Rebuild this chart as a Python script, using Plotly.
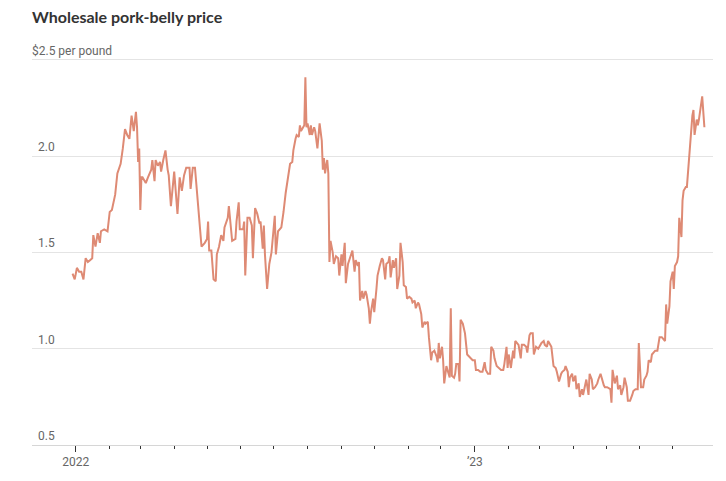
import plotly.graph_objects as go

# ---- data ----
dates = [
    "2021-12-29", "2021-12-31", "2022-01-02", "2022-01-04", "2022-01-06", "2022-01-08", "2022-01-10",
    "2022-01-12", "2022-01-14", "2022-01-16", "2022-01-17", "2022-01-19", "2022-01-21", "2022-01-23",
    "2022-01-24", "2022-01-27", "2022-01-30", "2022-02-01", "2022-02-03", "2022-02-06", "2022-02-08",
    "2022-02-11", "2022-02-13", "2022-02-15", "2022-02-17", "2022-02-19", "2022-02-21", "2022-02-23",
    "2022-02-25", "2022-02-26", "2022-02-27", "2022-02-28", "2022-03-01", "2022-03-02", "2022-03-03",
    "2022-03-06", "2022-03-08", "2022-03-11", "2022-03-12", "2022-03-14", "2022-03-15", "2022-03-17",
    "2022-03-19", "2022-03-20", "2022-03-22", "2022-03-24", "2022-03-26", "2022-03-27", "2022-03-29",
    "2022-04-01", "2022-04-04", "2022-04-06", "2022-04-08", "2022-04-10", "2022-04-12", "2022-04-15",
    "2022-04-16", "2022-04-18", "2022-04-20", "2022-04-22", "2022-04-24", "2022-04-26", "2022-04-29",
    "2022-05-01", "2022-05-02", "2022-05-03", "2022-05-05", "2022-05-07", "2022-05-09", "2022-05-10",
    "2022-05-12", "2022-05-14", "2022-05-16", "2022-05-17", "2022-05-20", "2022-05-21", "2022-05-22",
    "2022-05-24", "2022-05-27", "2022-05-28", "2022-05-30", "2022-05-31", "2022-06-03", "2022-06-04",
    "2022-06-05", "2022-06-07", "2022-06-09", "2022-06-11", "2022-06-12", "2022-06-14", "2022-06-16",
    "2022-06-18", "2022-06-19", "2022-06-21", "2022-06-22", "2022-06-23", "2022-06-25", "2022-06-27",
    "2022-06-29", "2022-07-01", "2022-07-02", "2022-07-03", "2022-07-05", "2022-07-08", "2022-07-09",
    "2022-07-10", "2022-07-12", "2022-07-14", "2022-07-16", "2022-07-18", "2022-07-19", "2022-07-21",
    "2022-07-22", "2022-07-24", "2022-07-25", "2022-07-26", "2022-07-28", "2022-07-29", "2022-07-30",
    "2022-07-31", "2022-08-01", "2022-08-03", "2022-08-04", "2022-08-05", "2022-08-07", "2022-08-08",
    "2022-08-10", "2022-08-11", "2022-08-12", "2022-08-14", "2022-08-15", "2022-08-16", "2022-08-17",
    "2022-08-18", "2022-08-19", "2022-08-20", "2022-08-21", "2022-08-22", "2022-08-24", "2022-08-25",
    "2022-08-27", "2022-08-29", "2022-08-30", "2022-09-01", "2022-09-02", "2022-09-04", "2022-09-05",
    "2022-09-07", "2022-09-08", "2022-09-10", "2022-09-11", "2022-09-13", "2022-09-14", "2022-09-16",
    "2022-09-17", "2022-09-18", "2022-09-20", "2022-09-21", "2022-09-23", "2022-09-24", "2022-09-26",
    "2022-09-27", "2022-09-28", "2022-09-30", "2022-10-01", "2022-10-03", "2022-10-04", "2022-10-06",
    "2022-10-08", "2022-10-09", "2022-10-11", "2022-10-12", "2022-10-14", "2022-10-15", "2022-10-16",
    "2022-10-18", "2022-10-19", "2022-10-21", "2022-10-22", "2022-10-24", "2022-10-25", "2022-10-27",
    "2022-10-28", "2022-10-30", "2022-10-31", "2022-11-02", "2022-11-04", "2022-11-05", "2022-11-07",
    "2022-11-08", "2022-11-10", "2022-11-11", "2022-11-13", "2022-11-14", "2022-11-16", "2022-11-17",
    "2022-11-19", "2022-11-20", "2022-11-22", "2022-11-23", "2022-11-25", "2022-11-27", "2022-11-28",
    "2022-11-29", "2022-11-30", "2022-12-02", "2022-12-03", "2022-12-04", "2022-12-06", "2022-12-07",
    "2022-12-09", "2022-12-10", "2022-12-11", "2022-12-13", "2022-12-14", "2022-12-15", "2022-12-17",
    "2022-12-18", "2022-12-19", "2022-12-21", "2022-12-23", "2022-12-25", "2022-12-27", "2022-12-29",
    "2022-12-30", "2023-01-01", "2023-01-02", "2023-01-04", "2023-01-06", "2023-01-08", "2023-01-10",
    "2023-01-11", "2023-01-13", "2023-01-15", "2023-01-16", "2023-01-18", "2023-01-19", "2023-01-21",
    "2023-01-23", "2023-01-25", "2023-01-27", "2023-01-28", "2023-01-30", "2023-01-31", "2023-02-01",
    "2023-02-03", "2023-02-05", "2023-02-06", "2023-02-07", "2023-02-09", "2023-02-10", "2023-02-12",
    "2023-02-13", "2023-02-15", "2023-02-17", "2023-02-18", "2023-02-20", "2023-02-21", "2023-02-23",
    "2023-02-24", "2023-02-26", "2023-02-28", "2023-03-01", "2023-03-03", "2023-03-05", "2023-03-06",
    "2023-03-08", "2023-03-09", "2023-03-11", "2023-03-12", "2023-03-14", "2023-03-16", "2023-03-17",
    "2023-03-19", "2023-03-21", "2023-03-22", "2023-03-24", "2023-03-25", "2023-03-27", "2023-03-28",
    "2023-03-29", "2023-03-31", "2023-04-01", "2023-04-03", "2023-04-04", "2023-04-06", "2023-04-07",
    "2023-04-09", "2023-04-10", "2023-04-12", "2023-04-13", "2023-04-15", "2023-04-16", "2023-04-18",
    "2023-04-19", "2023-04-21", "2023-04-23", "2023-04-24", "2023-04-26", "2023-04-29", "2023-04-30",
    "2023-05-02", "2023-05-05", "2023-05-06", "2023-05-07", "2023-05-09", "2023-05-10", "2023-05-11",
    "2023-05-12", "2023-05-14", "2023-05-15", "2023-05-17", "2023-05-18", "2023-05-20", "2023-05-21",
    "2023-05-23", "2023-05-25", "2023-05-26", "2023-05-28", "2023-05-30", "2023-05-31", "2023-06-02",
    "2023-06-04", "2023-06-05", "2023-06-07", "2023-06-08", "2023-06-09", "2023-06-11", "2023-06-12",
    "2023-06-15", "2023-06-17", "2023-06-19", "2023-06-21", "2023-06-23", "2023-06-24", "2023-06-25",
    "2023-06-26", "2023-06-28", "2023-06-29", "2023-07-01", "2023-07-02", "2023-07-03", "2023-07-05",
    "2023-07-06", "2023-07-07", "2023-07-09", "2023-07-10", "2023-07-11", "2023-07-13", "2023-07-14",
    "2023-07-16", "2023-07-18", "2023-07-19", "2023-07-20", "2023-07-21", "2023-07-23", "2023-07-24",
    "2023-07-25", "2023-07-27", "2023-07-28", "2023-07-30",
]

prices = [
    1.39, 1.36, 1.42, 1.40, 1.40, 1.36, 1.47,
    1.45, 1.46, 1.47, 1.59, 1.53, 1.60, 1.55,
    1.61, 1.62, 1.61, 1.71, 1.72, 1.80, 1.91,
    1.96, 2.04, 2.14, 2.11, 2.09, 2.21, 2.13,
    2.23, 2.15, 1.97, 2.04, 1.72, 1.89, 1.89,
    1.86, 1.89, 1.93, 1.98, 1.87, 1.98, 1.95,
    1.97, 1.92, 1.98, 2.03, 1.93, 1.90, 1.74,
    1.92, 1.70, 1.89, 1.82, 1.90, 1.94, 1.94,
    1.83, 1.94, 1.94, 1.81, 1.68, 1.53, 1.55,
    1.57, 1.66, 1.51, 1.51, 1.36, 1.35, 1.49,
    1.53, 1.59, 1.56, 1.63, 1.68, 1.74, 1.68,
    1.56, 1.57, 1.66, 1.76, 1.62, 1.62, 1.66,
    1.38, 1.68, 1.68, 1.64, 1.47, 1.73, 1.70,
    1.65, 1.66, 1.52, 1.64, 1.49, 1.31, 1.44,
    1.50, 1.64, 1.69, 1.49, 1.61, 1.63, 1.66,
    1.71, 1.81, 1.90, 1.96, 1.97, 2.03, 2.09,
    2.11, 2.10, 2.16, 2.13, 2.15, 2.16, 2.41,
    2.15, 2.17, 2.11, 2.16, 2.11, 2.15, 2.13,
    2.04, 2.11, 2.17, 2.08, 1.93, 1.99, 1.91,
    1.95, 1.98, 1.91, 1.45, 1.56, 1.50, 1.44,
    1.48, 1.47, 1.38, 1.49, 1.43, 1.55, 1.34,
    1.44, 1.46, 1.49, 1.51, 1.40, 1.46, 1.43,
    1.45, 1.25, 1.30, 1.26, 1.30, 1.28, 1.21,
    1.13, 1.19, 1.26, 1.19, 1.31, 1.38, 1.43,
    1.47, 1.46, 1.36, 1.44, 1.45, 1.48, 1.37,
    1.46, 1.42, 1.47, 1.31, 1.38, 1.55, 1.45,
    1.33, 1.32, 1.26, 1.27, 1.26, 1.24, 1.25,
    1.21, 1.24, 1.23, 1.18, 1.11, 1.14, 1.13,
    1.14, 1.06, 0.94, 0.98, 0.99, 0.96, 0.93,
    1.03, 0.95, 1.01, 0.94, 0.82, 0.91, 0.89,
    0.85, 1.21, 0.86, 0.85, 0.87, 0.92, 0.92,
    0.83, 1.15, 1.13, 1.08, 0.97, 0.96, 0.95,
    0.94, 0.94, 0.89, 0.89, 0.88, 0.88, 0.93,
    0.89, 0.87, 0.87, 1.01, 0.99, 0.95, 0.91,
    0.90, 0.89, 0.89, 0.92, 1.01, 0.90, 0.97,
    0.90, 0.99, 0.95, 1.04, 1.03, 1.02, 0.95,
    1.02, 1.02, 1.01, 0.98, 1.07, 1.08, 1.08,
    0.97, 1.01, 1.00, 1.01, 1.03, 1.04, 1.02,
    1.01, 1.04, 1.02, 1.01, 0.91, 0.90, 0.88,
    0.83, 0.87, 0.88, 0.89, 0.91, 0.88, 0.80,
    0.85, 0.87, 0.83, 0.86, 0.79, 0.82, 0.75,
    0.79, 0.76, 0.82, 0.84, 0.76, 0.87, 0.84,
    0.79, 0.80, 0.82, 0.84, 0.87, 0.81, 0.80,
    0.80, 0.79, 0.72, 0.89, 0.82, 0.84, 0.86,
    0.79, 0.81, 0.76, 0.80, 0.85, 0.80, 0.73,
    0.73, 0.76, 0.78, 0.79, 0.79, 1.03, 0.80,
    0.80, 0.84, 0.86, 0.88, 0.94, 0.93, 0.97,
    0.99, 0.99, 1.06, 1.06, 1.05, 1.04, 1.23,
    1.13, 1.22, 1.35, 1.40, 1.31, 1.43, 1.45,
    1.48, 1.68, 1.58, 1.77, 1.82, 1.84, 1.84,
    1.98, 2.16, 2.21, 2.24, 2.11, 2.19, 2.16,
    2.19, 2.26, 2.31, 2.15,
]

y_ticks = [0.5, 1.0, 1.5, 2.0, 2.5]
y_tick_labels = ["0.5", "1.0", "1.5", "2.0", "$2.5 per pound"]
x_major_ticks = ["2022-01-01", "2023-01-01"]
x_major_labels = ["2022", "\u201923"]
x_minor_ticks = [
    "2022-02-01", "2022-03-01", "2022-04-01", "2022-05-01", "2022-06-01", "2022-07-01",
    "2022-08-01", "2022-09-01", "2022-10-01", "2022-11-01", "2022-12-01",
    "2023-02-01", "2023-03-01", "2023-04-01", "2023-05-01", "2023-06-01", "2023-07-01",
]
title_text = "Wholesale pork-belly price"

LINE_COLOR = "#de8a74"
LABEL_FONT = "Roboto, sans-serif"
LABEL_COLOR = "#666666"

# the page adds an 8px body margin; size the figure so the plot lands where the reference has it
FIG_W, FIG_H = 718, 473

fig = go.Figure()
fig.add_trace(go.Scatter(
    x=dates, y=prices, mode="lines",
    line=dict(color=LINE_COLOR, width=2),
    hoverinfo="skip", showlegend=False,
))

annotations = []
for v, t in zip(y_ticks, y_tick_labels):
    annotations.append(dict(
        x=0, xref="paper", y=v, yref="y", text=t, showarrow=False,
        xanchor="left", yanchor="bottom",
        xshift=(-2 if t.startswith("$") else 4), yshift=0,
        font=dict(family=LABEL_FONT, size=12, color=LABEL_COLOR),
    ))

fig.update_layout(
    width=FIG_W, height=FIG_H,
    margin=dict(l=24, r=13, t=48, b=33),
    paper_bgcolor="white", plot_bgcolor="white",
    title=dict(
        text=title_text, xref="container", x=24 / FIG_W, xanchor="left",
        yref="container", y=1 - 9 / FIG_H, yanchor="middle",
        font=dict(family="Lato, Roboto, sans-serif", size=16, color="#333333", weight="bold"),
    ),
    annotations=annotations,
    xaxis=dict(
        type="date",
        range=["2021-11-21 22:00", "2023-08-06 21:00"],
        tickmode="array", tickvals=x_major_ticks, ticktext=x_major_labels,
        ticks="outside", ticklen=6, tickwidth=1, tickcolor="#333333",
        tickfont=dict(family=LABEL_FONT, size=12, color=LABEL_COLOR),
        minor=dict(tickmode="array", tickvals=x_minor_ticks, ticks="outside",
                   ticklen=3, tickwidth=1, tickcolor="#333333", showgrid=False),
        showgrid=False, zeroline=False,
        showline=True, linecolor="#d6d6d6", linewidth=1,
        fixedrange=True,
    ),
    yaxis=dict(
        range=[0.5, 2.52], tickmode="array", tickvals=y_ticks,
        showticklabels=False, ticks="",
        showgrid=True, gridcolor="#e4e4e4", gridwidth=1,
        zeroline=False, showline=False, fixedrange=True,
    ),
)

fig.write_html("out.html")
